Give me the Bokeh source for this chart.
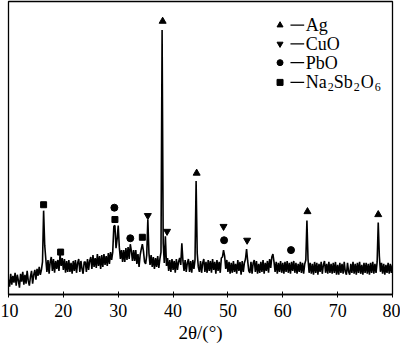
from bokeh.plotting import figure
from bokeh.models import Range1d, FixedTicker, Label
from bokeh.embed import file_html
from bokeh.resources import INLINE

# ---- data ----
start_deg = 10.0
step_deg = 0.2
intensity = [
    150, 80, 210, 100, 190,    # 10
    120, 220, 90, 200, 140,    # 11
    70, 210, 130, 230, 100,    # 12
    200, 110, 240, 140, 90,    # 13
    180, 240, 110, 200, 250,   # 14
    150, 260, 190, 280, 200,   # 15
    250, 330, 850, 500, 360,   # 16
    230, 350, 210, 330, 380,   # 17
    240, 360, 220, 340, 260,   # 18
    350, 240, 410, 290, 370,   # 19
    250, 360, 220, 340, 230,   # 20
    350, 230, 320, 210, 340,   # 21
    240, 350, 220, 320, 360,   # 22
    230, 340, 260, 210, 330,   # 23
    330, 230, 360, 250, 340,   # 24
    380, 260, 400, 280, 370,   # 25
    270, 410, 290, 390, 260,   # 26
    400, 280, 410, 300, 390,   # 27
    290, 420, 310, 430, 350,   # 28
    430, 690, 700, 470, 560,   # 29
    700, 480, 360, 450, 330,   # 30
    450, 330, 470, 350, 480,   # 31
    360, 510, 440, 340, 450,   # 32
    340, 450, 310, 410, 280,   # 33
    400, 460, 510, 440, 330,   # 34
    310, 400, 760, 420, 300,   # 35
    400, 280, 380, 260, 370,   # 36
    280, 390, 270, 360, 430,   # 37
    2680, 520, 320, 590, 290,  # 38
    370, 240, 350, 230, 360,   # 39
    250, 340, 220, 360, 250,   # 40
    330, 370, 300, 520, 340,   # 41
    240, 350, 230, 320, 360,   # 42
    230, 340, 220, 350, 260,   # 43
    350, 1150, 420, 280, 230,  # 44
    340, 220, 320, 360, 230,   # 45
    330, 220, 350, 240, 340,   # 46
    220, 360, 250, 330, 210,   # 47
    350, 240, 330, 220, 370,   # 48
    380, 450, 390, 260, 350,   # 49
    230, 330, 210, 320, 220,   # 50
    340, 230, 310, 210, 350,   # 51
    240, 330, 200, 340, 230,   # 52
    320, 360, 460, 340, 240,   # 53
    220, 330, 210, 320, 350,   # 54
    230, 340, 210, 310, 220,   # 55
    330, 230, 350, 210, 320,   # 56
    240, 340, 220, 360, 270,   # 57
    380, 410, 330, 230, 330,   # 58
    210, 320, 230, 340, 220,   # 59
    320, 210, 330, 230, 340,   # 60
    220, 320, 210, 330, 240,   # 61
    340, 220, 320, 210, 310,   # 62
    230, 330, 220, 320, 210,   # 63
    310, 350, 750, 360, 220,   # 64
    320, 210, 310, 200, 330,   # 65
    220, 320, 200, 310, 230,   # 66
    330, 210, 300, 340, 220,   # 67
    310, 210, 330, 220, 310,   # 68
    210, 320, 220, 330, 200,   # 69
    300, 200, 320, 220, 310,   # 70
    210, 330, 230, 200, 320,   # 71
    230, 200, 310, 220, 330,   # 72
    210, 310, 200, 320, 220,   # 73
    330, 210, 300, 200, 320,   # 74
    220, 320, 210, 310, 200,   # 75
    320, 220, 330, 210, 310,   # 76
    220, 330, 730, 390, 230,   # 77
    320, 210, 310, 200, 300,   # 78
    220, 320, 210, 310, 220,   # 79
    300,                       # 80
]
two_theta = [round(start_deg + step_deg * i, 1) for i in range(len(intensity))]

# phase markers
ag_x = [38.1, 44.3, 64.5, 77.4]
ag_y = [2770, 1230, 840, 810]
cuo_x = [35.4, 38.9, 49.2, 53.5]
cuo_y = [800, 640, 690, 550]
pbo_x = [29.3, 32.2, 49.3, 61.5]
pbo_y = [880, 570, 550, 450]
na_x = [16.4, 19.5, 29.4, 34.4]
na_y = [910, 430, 760, 580]

x_ticks = [10, 20, 30, 40, 50, 60, 70, 80]

FONT = "Liberation Serif"

p = figure(width=400, height=345, output_backend="svg", toolbar_location=None,
           x_range=Range1d(10, 80), y_range=Range1d(0, 2970),
           min_border_left=8, min_border_right=8, min_border_top=1,
           min_border_bottom=47)
p.background_fill_color = "white"
p.border_fill_color = "white"
p.outline_line_color = "black"
p.outline_line_width = 1.3
p.grid.visible = False
p.yaxis.visible = False

xa = p.xaxis[0]
xa.ticker = FixedTicker(ticks=x_ticks)
xa.major_tick_in = 3
xa.major_tick_out = 3
xa.minor_tick_line_color = None
xa.axis_line_color = "black"
xa.axis_line_width = 1.3
xa.major_tick_line_color = "black"
xa.major_label_text_font = FONT
xa.major_label_text_font_size = "18px"
xa.major_label_text_color = "black"
xa.major_label_standoff = 6
xa.axis_label = "2θ/(°)"
xa.axis_label_text_font = FONT
xa.axis_label_text_font_size = "19px"
xa.axis_label_text_font_style = "normal"
xa.axis_label_text_color = "black"
xa.axis_label_standoff = 2

p.line(two_theta, intensity, line_color="black", line_width=1.6)

p.scatter(ag_x, ag_y, marker="triangle", size=7, color="black")
p.scatter(cuo_x, cuo_y, marker="inverted_triangle", size=7, color="black")
p.scatter(pbo_x, pbo_y, marker="circle", size=7, color="black")
p.scatter(na_x, na_y, marker="square", size=6, color="black")

# legend (manual)
leg_marker_x = 59.5
leg_dash = (61.4, 63.9)
leg_text_x = 64.2
rows = [2730, 2540, 2350, 2150]
markers = ["triangle", "inverted_triangle", "circle", "square"]
for yv, mk in zip(rows, markers):
    p.scatter([leg_marker_x], [yv], marker=mk, size=6, color="black")
    p.segment(x0=[leg_dash[0]], y0=[yv], x1=[leg_dash[1]], y1=[yv],
              line_color="black", line_width=1.3)

def lab(x, y, text, dx=0, dy=0, size="18px"):
    p.add_layout(Label(x=x, y=y, x_offset=dx, y_offset=dy, text=text,
                       text_font=FONT, text_font_size=size,
                       text_color="black", text_baseline="middle", text_align="left"))

lab(leg_text_x, rows[0], "Ag")
lab(leg_text_x, rows[1], "CuO")
lab(leg_text_x, rows[2], "PbO")
lab(leg_text_x, rows[3], "Na")
lab(leg_text_x, rows[3], "2", dx=22, dy=-5, size="12px")
lab(leg_text_x, rows[3], "Sb", dx=28)
lab(leg_text_x, rows[3], "2", dx=48, dy=-5, size="12px")
lab(leg_text_x, rows[3], "O", dx=55)
lab(leg_text_x, rows[3], "6", dx=69, dy=-5, size="12px")

open("out.html", "w").write(file_html(p, INLINE))
